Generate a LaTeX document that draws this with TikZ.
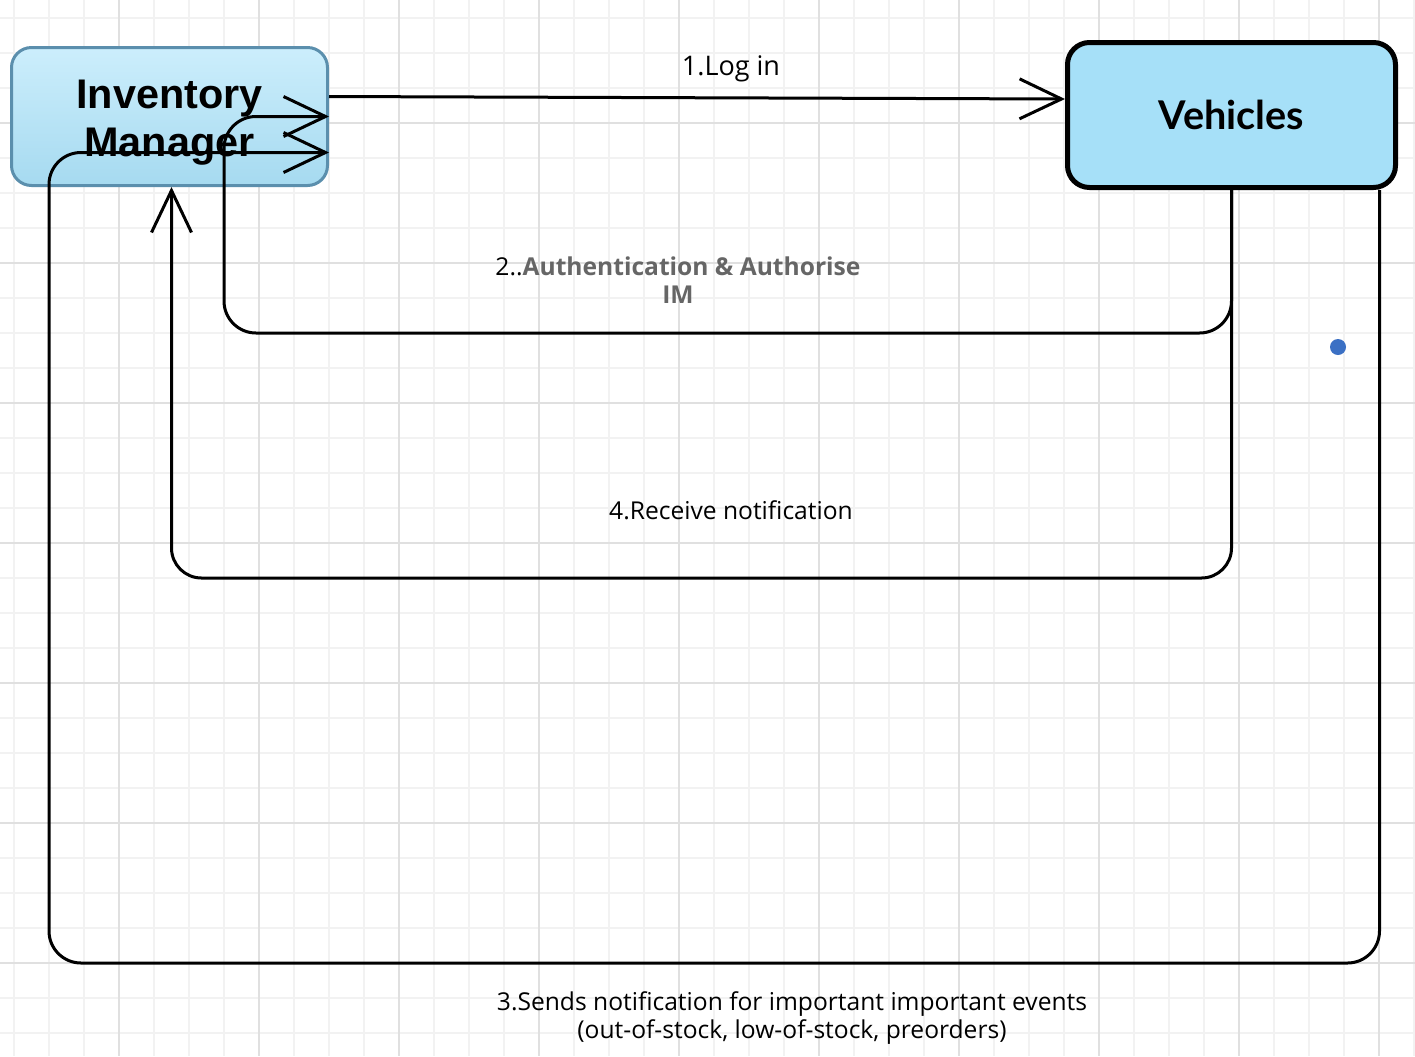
\documentclass[tikz,border=0pt]{standalone}
\usepackage{fontspec}
\setmainfont{Open Sans}
\newfontfamily\imfont{Liberation Sans}
\newfontfamily\vhfont{Lato}
\usetikzlibrary{arrows.meta,calc}
\definecolor{imtop}{HTML}{CCEEFC}
\definecolor{imbot}{HTML}{A6DAF0}
\definecolor{imline}{HTML}{5B8FAD}
\definecolor{vhfill}{HTML}{A6E0F8}
\definecolor{gridmajor}{HTML}{E0E0E0}
\definecolor{gridminor}{HTML}{F2F2F2}
\definecolor{labgrey}{HTML}{666666}
\definecolor{dotblue}{HTML}{3B70C4}
\begin{document}
\begin{tikzpicture}[x=0.5pt,y=-0.5pt,
	flow/.style={line width=1.5pt, -{Straight Barb[length=21pt,width=20pt]}},
	lab/.style={font=\fontsize{12.3}{14}\selectfont, align=center, inner sep=0pt, anchor=base}]
	\useasboundingbox (0,0) rectangle (1415,1056);
	\fill[white] (0,0) rectangle (1415,1056);
	% grid
	\foreach \x in {14,49,...,1414} \draw[gridminor, line width=0.75pt] (\x,0) -- (\x,1056);
	\foreach \y in {18,53,...,1055} \draw[gridminor, line width=0.75pt] (0,\y) -- (1415,\y);
	\foreach \x in {119,259,...,1379} \draw[gridmajor, line width=0.75pt] (\x,0) -- (\x,1056);
	\foreach \y in {123,263,...,963} \draw[gridmajor, line width=0.75pt] (0,\y) -- (1415,\y);
	\node (IM) at (169.5,116.5)	[rectangle, rounded corners=10pt, draw=imline, line width=1.5pt, top color=imtop, bottom color=imbot, minimum width=158pt, minimum height=69pt, font=\imfont\bfseries\fontsize{20.7}{24}\selectfont]	{\raisebox{-3pt}[\height][\depth]{\begin{tabular}{@{}c@{}}Inventory\\Manager\end{tabular}}};
	\node (VH) at (1231.5,115)	[rectangle, rounded corners=11pt, draw=black, line width=2.5pt, fill=vhfill, minimum width=164pt, minimum height=72.5pt, font=\vhfont\bfseries\fontsize{19.8}{22}\selectfont]	{Vehicles};
	\node (dot) at (1338,347)	[circle, fill=dotblue, inner sep=0pt, minimum size=8pt]	{};
	\draw[flow] ([yshift=10pt]IM.east) -- ([yshift=8pt]VH.west);
	\draw[flow, rounded corners=16pt] (VH.south) |- (224,333) |- (IM.east);
	\draw[flow, rounded corners=16pt] ([xshift=74pt]VH.south) |- (49,963) |- ([yshift=-18pt]IM.east);
	\draw[flow, rounded corners=15pt] (VH.south) |- (171.5,578) -- ([xshift=1pt]IM.south);
	\node (login) at (731,75)	[lab, font=\fontsize{13.5}{14}\selectfont]	{1.Log in};
	\node (auth) at (678,303)	[lab]	{2..\textcolor{labgrey}{\bfseries Authentication \& Authorise}\\\textcolor{labgrey}{\bfseries IM}};
	\node (notify) at (731,519)	[lab]	{4.Receive notification};
	\node (sends) at (792,1038)	[lab]	{3.Sends notification for important important events\\(out-of-stock, low-of-stock, preorders)};
\end{tikzpicture}
\end{document}
